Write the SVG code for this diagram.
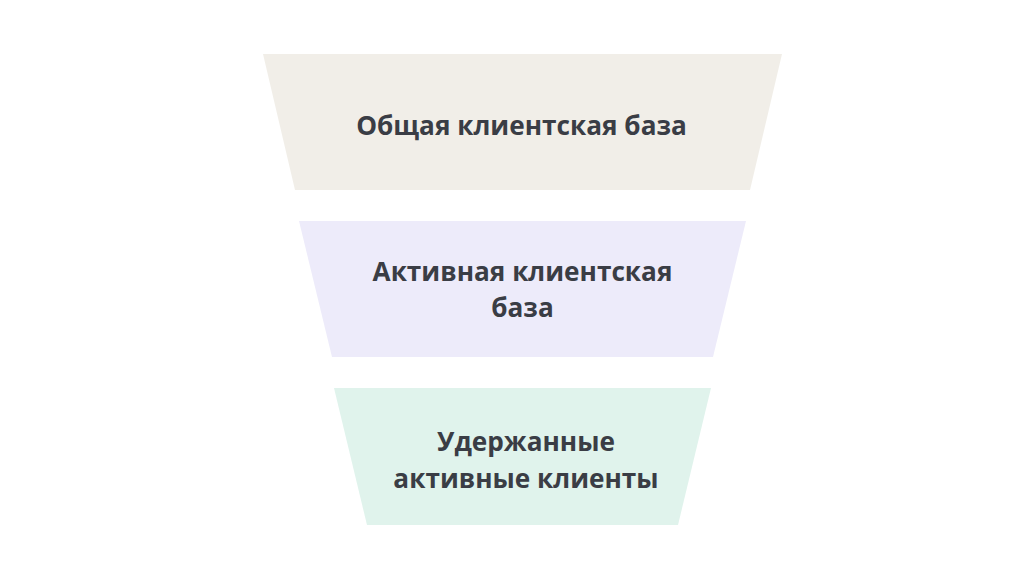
<svg xmlns="http://www.w3.org/2000/svg" width="1024" height="569" viewBox="0 0 1024 569">
<style>
.lbl{font-family:"Open Sans","Noto Sans","Liberation Sans",sans-serif;font-weight:700;font-size:26.2px;fill:#3a3d45;text-anchor:middle}
</style>
<rect width="1024" height="569" fill="#ffffff"/>
<g id="level1">
<polygon points="263,54 782,54 750,190 295,190" fill="#f1eee8"/>
<text class="lbl" x="521.5" y="135">Общая клиентская база</text>
</g>
<g id="level2">
<polygon points="299,221 746,221 713,357 332,357" fill="#edebfa"/>
<text class="lbl" x="522.5" y="281">Активная клиентская</text>
<text class="lbl" x="522.5" y="317">база</text>
</g>
<g id="level3">
<polygon points="334,388 711,388 678,525 367,525" fill="#e0f3ec"/>
<text class="lbl" x="526" y="451">Удержанные</text>
<text class="lbl" x="526" y="488">активные клиенты</text>
</g>
<g id="connectors"></g>
</svg>
